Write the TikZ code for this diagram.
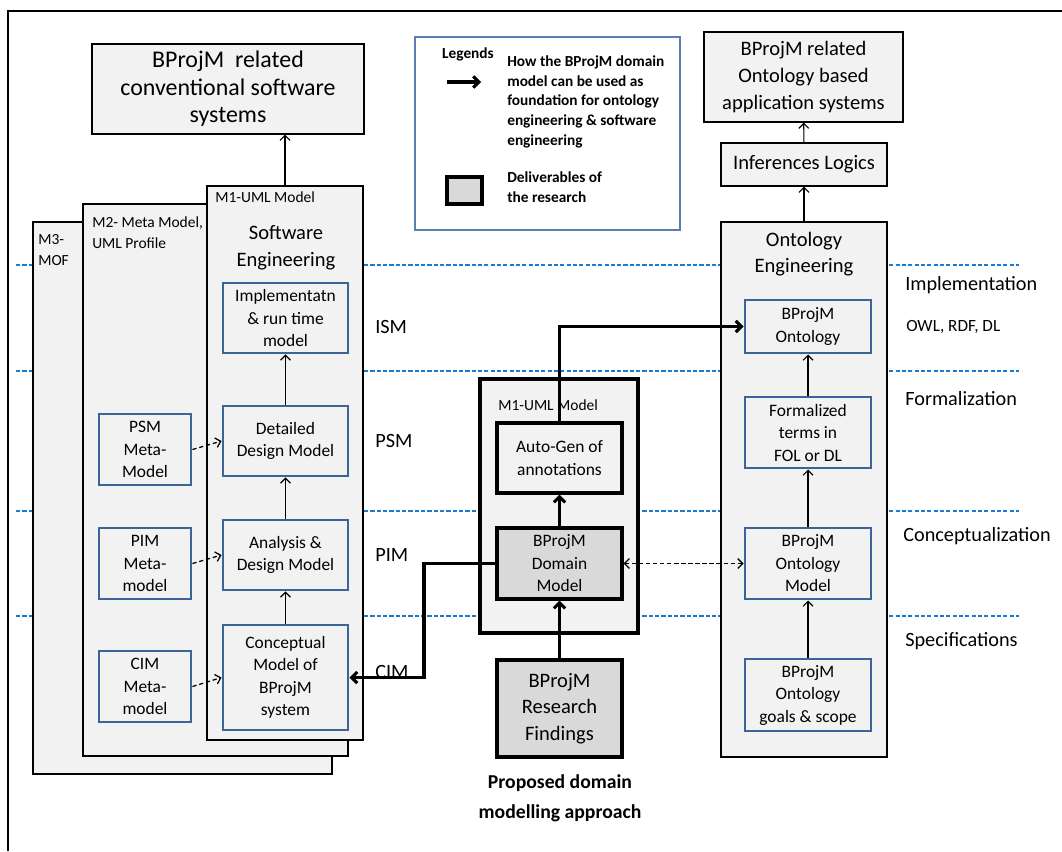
\documentclass[tikz,border=0pt]{standalone}
\usepackage{fontspec}
\setmainfont{Carlito}
\usetikzlibrary{arrows.meta}
\definecolor{panelgray}{HTML}{F2F2F2}
\definecolor{delgray}{HTML}{D9D9D9}
\definecolor{boxblue}{HTML}{3D6496}
\definecolor{levelblue}{HTML}{1A7AD0}
\definecolor{legblue}{HTML}{5B7DB0}
\newlength\pxu
\setlength\pxu{0.025cm}
\tikzset{
  sz/.style 2 args={minimum width=#1*\pxu,minimum height=#2*\pxu},
  boxtxt/.style={font=\fontsize{12.4}{16}\selectfont,align=center,inner sep=0pt},
  bigtxt/.style={font=\fontsize{14.6}{19}\selectfont,align=center,inner sep=0pt},
  smalltxt/.style={font=\fontsize{11}{15}\selectfont,align=left,inner sep=0pt},
  sidetxt/.style={font=\fontsize{14.4}{18}\selectfont,inner sep=0pt,anchor=west},
  legtxt/.style={font=\bfseries\fontsize{10.9}{14.2}\selectfont,align=left,inner sep=0pt},
  panel/.style={draw,fill=panelgray,line width=0.9pt},
  bluebox/.style={boxtxt,draw=boxblue,fill=panelgray,line width=2.1pt},
  midbox/.style={boxtxt,draw,fill=panelgray,line width=2.2pt},
  deliv/.style={midbox,fill=delgray},
  levelline/.style={levelblue,line width=1pt,dash pattern=on 3pt off 1.5pt},
  thinarr/.style={line width=0.8pt,-{Straight Barb[length=3.5pt,width=7pt]}},
  thickarr/.style={line width=2.2pt,-{Straight Barb[length=4pt,width=8pt]}},
  dasharr/.style={line width=0.9pt,dash pattern=on 3pt off 2pt,-{Straight Barb[length=3.5pt,width=7pt]}}
}

\begin{document}
\begin{tikzpicture}[x=0.025cm,y=-0.025cm]
  \useasboundingbox (0,0) rectangle (1062,851);
  \draw[line width=1.5pt] (8,851) -- (8,11) -- (1062,11);

  \foreach \yy in {265,371,511,616}
    \draw[levelline] (16,\yy) -- (1019,\yy);

  \node[panel,sz={299}{552}] (m3) at (182.5,498) {};
  \node[panel,sz={265}{552}] (m2) at (215.5,480) {};
  \node[panel,sz={156}{554}] (m1) at (285,463) {};
  \node[smalltxt,anchor=north west] (m3lab) at (38,234) {M3-\\MOF};
  \node[smalltxt,anchor=north west] (m2lab) at (92,216) {M2- Meta Model,\\UML Profile};
  \node[smalltxt,anchor=north west] (m1lab) at (215,191) {M1-UML Model};
  \node[bigtxt] (swtitle) at (286,248) {Software\\Engineering};

  \node[bluebox,sz={125}{70}] (impl) at (285.5,318) {Implementatn\\\& run time\\model};
  \node[bluebox,sz={125}{70}] (dsgn) at (285.5,441) {Detailed\\Design Model};
  \node[bluebox,sz={125}{70}] (anls) at (285.5,555) {Analysis \&\\Design Model};
  \node[bluebox,sz={125}{105}] (cncp) at (285.5,677.5) {Conceptual\\Model of\\BProjM\\system};
  \node[bluebox,sz={92}{71}] (psmm) at (145,449.5) {PSM\\Meta-\\Model};
  \node[bluebox,sz={92}{71}] (pimm) at (145,563.5) {PIM\\Meta-\\model};
  \node[bluebox,sz={92}{71}] (cimm) at (145,686.5) {CIM\\Meta-\\model};

  \draw[thinarr] (cncp) -- (anls);
  \draw[thinarr] (anls) -- (dsgn);
  \draw[thinarr] (dsgn) -- (impl);
  \draw[dasharr] (psmm.east) -- (dsgn.west);
  \draw[dasharr] (pimm.east) -- (anls.west);
  \draw[dasharr] (cimm.east) -- (cncp.west);

  \node[panel,bigtxt,font=\fontsize{17}{19.5}\selectfont,sz={272}{90}] (conv) at (228,89) {BProjM\ \ related\\conventional software\\systems};
  \draw[thinarr] (m1.north) -- (m1.north |- conv.south);

  \node[sidetxt] (ism) at (375,327) {ISM};
  \node[sidetxt] (psm) at (375,441) {PSM};
  \node[sidetxt] (pim) at (375,555) {PIM};
  \node[sidetxt] (cim) at (375,672) {CIM};

  \node[draw=legblue,line width=0.9pt,sz={265}{193}] (legend) at (547.5,133.5) {};
  \node[legtxt] (legtitle) at (468,54) {Legends};
  \coordinate (legA) at (447,82);
  \coordinate (legB) at (481,82);
  \draw[thickarr] (legA) -- (legB);
  \node[legtxt,anchor=north west] (legarrtxt) at (507,55) {How the BProjM domain\\model can be used as\\foundation for ontology\\engineering \& software\\engineering};
  \node[deliv,sz={35}{27}] (legbox) at (464.5,190.5) {};
  \node[legtxt,anchor=north west] (legboxtxt) at (507,171) {Deliverables of\\the research};

  \node[panel,line width=2.2pt,sz={158}{254}] (midp) at (559,506) {};
  \node[smalltxt,anchor=west] (midlab) at (498,405) {M1-UML Model};
  \node[midbox,sz={125}{70}] (agen) at (559.5,458) {Auto-Gen of\\annotations};
  \node[deliv,sz={125}{71}] (dom) at (559.5,563.5) {BProjM\\Domain\\Model};
  \node[deliv,bigtxt,sz={125}{97}] (find) at (559.5,708.5) {BProjM\\Research\\Findings};
  \node[bigtxt,font=\bfseries\fontsize{14}{21}\selectfont] (capt) at (560,798) {Proposed domain\\modelling approach};

  \node[panel,bigtxt,sz={199}{90}] (apps) at (803.5,77) {BProjM related\\Ontology based\\application systems};
  \node[panel,bigtxt,sz={166}{43}] (infer) at (804,164.5) {Inferences Logics};
  \node[panel,sz={166}{535}] (ontp) at (804,489.5) {};
  \node[bigtxt] (onttitle) at (804,254) {Ontology\\Engineering};
  \node[bluebox,sz={126}{53}] (onto) at (808,326.5) {BProjM\\Ontology};
  \node[bluebox,sz={126}{71}] (form) at (808,432.5) {Formalized\\terms in\\FOL or DL};
  \node[bluebox,sz={126}{71}] (omod) at (808,563.5) {BProjM\\Ontology\\Model};
  \node[bluebox,sz={126}{72}] (goal) at (808,695) {BProjM\\Ontology\\goals \& scope};

  \draw[thinarr] (goal) -- (omod);
  \draw[thinarr] (omod) -- (form);
  \draw[thinarr] (form) -- (onto);
  \draw[thinarr] (ontp.north) -- (infer.south);
  \draw[thinarr] (infer) -- (apps);

  \draw[thickarr] (find) -- (dom);
  \draw[thickarr] (dom) -- (agen);
  \draw[thickarr] (agen.north) |- (onto.west);
  \coordinate (dombend) at (424,563.5);
  \draw[thickarr] (dom.west) -- (dombend) |- (cncp.east);
  \draw[dasharr,{Straight Barb[length=3.5pt,width=7pt]}-{Straight Barb[length=3.5pt,width=7pt]}] (dom.east) -- (omod.west);

  \node[sidetxt] (implev) at (905,285) {Implementation};
  \node[sidetxt,font=\fontsize{12.2}{15}\selectfont] (owl) at (906,327) {OWL, RDF, DL};
  \node[sidetxt] (formlev) at (905,399) {Formalization};
  \node[sidetxt] (conclev) at (903,536) {Conceptualization};
  \node[sidetxt] (speclev) at (905,641) {Specifications};
\end{tikzpicture}
\end{document}
